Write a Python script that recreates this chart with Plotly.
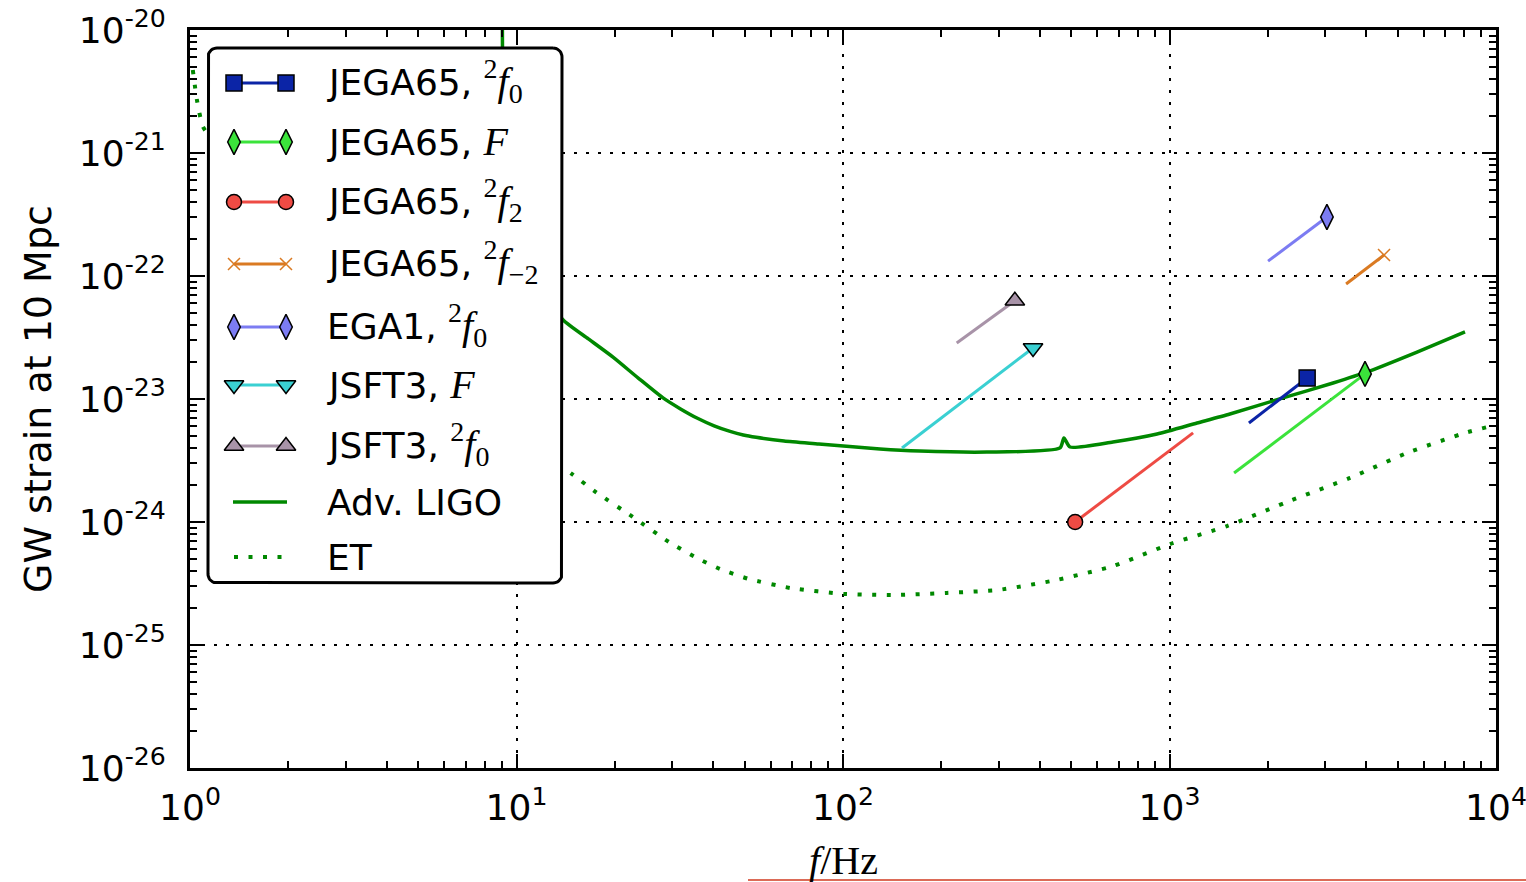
import numpy as np
import plotly.graph_objects as go

# ---------------- data ----------------
SERIF = '<span style="font-family:Liberation Serif;font-size:40px">'
series_labels = [
    "JEGA65, " + SERIF + "<sup>2</sup><i>f</i><sub>0</sub></span>",
    "JEGA65, " + SERIF + "<i>F</i></span>",
    "JEGA65, " + SERIF + "<sup>2</sup><i>f</i><sub>2</sub></span>",
    "JEGA65, " + SERIF + "<sup>2</sup><i>f</i><sub>\u22122</sub></span>",
    "EGA1, " + SERIF + "<sup>2</sup><i>f</i><sub>0</sub></span>",
    "JSFT3, " + SERIF + "<i>F</i></span>",
    "JSFT3, " + SERIF + "<sup>2</sup><i>f</i><sub>0</sub></span>",
]
series_colors = ["#0b24a6", "#3be33b", "#ee4b44", "#da7a22", "#7c7cf2", "#3ad0d2", "#a893a8"]
series_symbols = ["square", "diamond-tall", "circle", "x-thin-open",
                  "diamond-tall", "triangle-down", "triangle-up"]
series_sizes = [16, 18, 15, 12, 18, 17, 17]

# frequency / strain at the marked end and at the other end of each track
marker_freq = [2640, 3970, 514, 4540, 3035, 382, 336]
marker_strain = [1.48e-23, 1.6e-23, 1.0e-24, 1.48e-22, 3.02e-22, 2.6e-23, 6.3e-23]
tail_freq = [1751, 1577, 1181, 3474, 2004, 151.6, 223]
tail_strain = [6.38e-24, 2.5e-24, 5.3e-24, 8.6e-23, 1.32e-22, 4.0e-24, 2.85e-23]

# detector sensitivity curves
ligo_freq = [9.05, 9.1, 9.5, 10.5, 12.0, 13.9, 16.6, 19.75, 23.6, 28.1, 31.8, 35.7,
             40.3, 45.1, 49.5, 54.2, 66.0, 84.4, 129.8, 172, 276, 462, 475, 496, 671,
             916, 1214, 1531, 2227, 3170, 4028, 5730, 8036]
ligo_strain = [1e-19, 3e-21, 5e-22, 1.6e-22, 7.5e-23, 4.39e-23, 3.08e-23, 2.19e-23,
               1.48e-23, 1.02e-23, 8.3e-24, 7.0e-24, 6.05e-24, 5.45e-24, 5.1e-24,
               4.88e-24, 4.55e-24, 4.31e-24, 3.92e-24, 3.77e-24, 3.70e-24, 4.0e-24,
               4.82e-24, 4.07e-24, 4.47e-24, 5.19e-24, 6.38e-24, 7.55e-24, 1.02e-23,
               1.35e-23, 1.66e-23, 2.41e-23, 3.51e-23]
et_freq = [1.02, 1.05, 1.096, 1.26, 1.58, 2.51, 3.98, 6.31, 10.0, 14.8, 17.5, 22.7,
           29.3, 35.2, 42.0, 51.5, 69.3, 100.7, 145, 208, 298, 449, 671, 1004, 1500,
           2372, 3570, 5335, 8036, 10000]
et_strain = [4.73e-21, 2.70e-21, 1.63e-21, 1.0e-21, 4.5e-22, 1.12e-22, 3.55e-23,
             1.26e-23, 5.1e-24, 2.45e-24, 1.75e-24, 1.10e-24, 6.88e-25, 5.19e-25,
             4.15e-25, 3.44e-25, 2.90e-25, 2.60e-25, 2.55e-25, 2.65e-25, 2.80e-25,
             3.37e-25, 4.38e-25, 6.62e-25, 9.27e-25, 1.51e-24, 2.28e-24, 3.64e-24,
             5.30e-24, 6.15e-24]

x_tick_vals = [1, 10, 100, 1000, 10000]
x_tick_text = ["10<sup>0</sup>", "10<sup>1</sup>", "10<sup>2</sup>", "10<sup>3</sup>", "10<sup>4</sup>"]
y_tick_vals = [1e-26, 1e-25, 1e-24, 1e-23, 1e-22, 1e-21, 1e-20]
y_tick_text = ["10<sup>-26</sup>", "10<sup>-25</sup>", "10<sup>-24</sup>", "10<sup>-23</sup>",
               "10<sup>-22</sup>", "10<sup>-21</sup>", "10<sup>-20</sup>"]

DET_COLOR = "#008800"
detector_labels = ["Adv. LIGO", "ET"]

# ---------------- geometry ----------------
W, H = 1526, 882
ML, MR, MT, MB = 190, 30, 30, 114
PW, PH = W - ML - MR, H - MT - MB


def px_x(p):
    return (p - ML) / PW


def px_y(p):
    return (H - MB - p) / PH


minor_x = [m * 10.0 ** k for k in range(0, 4) for m in range(2, 10)]
minor_y = [m * 10.0 ** k for k in range(-26, -20) for m in range(2, 10)]

fig = go.Figure()

# sensitivity curves
fig.add_trace(go.Scatter(x=ligo_freq, y=ligo_strain, mode="lines",
                         line=dict(color=DET_COLOR, width=3.5, shape="spline",
                                   smoothing=0.6)))
fig.add_trace(go.Scatter(x=et_freq, y=et_strain, mode="lines",
                         line=dict(color=DET_COLOR, width=4, dash="4px,10.5px",
                                   shape="spline", smoothing=0.5)))

# signal tracks with a marker on one end
for i in range(len(series_labels)):
    fig.add_trace(go.Scatter(x=[tail_freq[i], marker_freq[i]],
                             y=[tail_strain[i], marker_strain[i]],
                             mode="lines", line=dict(color=series_colors[i], width=3)))
for i in range(len(series_labels)):
    open_sym = series_symbols[i].endswith("open")
    fig.add_trace(go.Scatter(
        x=[marker_freq[i]], y=[marker_strain[i]], mode="markers",
        marker=dict(symbol=series_symbols[i], size=series_sizes[i],
                    color=series_colors[i],
                    line=dict(color=series_colors[i] if open_sym else "black",
                              width=1.5))))

# ---------------- legend panel (own pixel-scaled subplot) ----------------
LX0, LX1, LY0, LY1 = 203, 568, 43, 588
box_l, box_r, box_t, box_b, rad = 208, 562, 48, 583, 9


def rounded_box(l, r, t, b, rr, n=10):
    xs, ys = [], []
    corners = [(r - rr, t + rr, -90, 0), (r - rr, b - rr, 0, 90),
               (l + rr, b - rr, 90, 180), (l + rr, t + rr, 180, 270)]
    for cx, cy, a0, a1 in corners:
        ang = np.radians(np.linspace(a0, a1, n))
        xs.extend(cx + rr * np.cos(ang))
        ys.extend(cy + rr * np.sin(ang))
    xs.append(xs[0])
    ys.append(ys[0])
    return xs, ys


bx, by = rounded_box(box_l, box_r, box_t, box_b, rad)
fig.add_trace(go.Scatter(x=bx, y=by, xaxis="x2", yaxis="y2", mode="lines",
                         fill="toself", fillcolor="white",
                         line=dict(color="black", width=3)))

row_y = [83, 142, 202, 264, 327, 385, 446, 502, 557]
text_dy = [-2, -1, -2, -2, -2, -1, -2, 0, 0]
s0, s1 = 234, 286
for i in range(len(series_labels)):
    open_sym = series_symbols[i].endswith("open")
    fig.add_trace(go.Scatter(
        x=[s0, s1], y=[row_y[i]] * 2, xaxis="x2", yaxis="y2", mode="lines+markers",
        line=dict(color=series_colors[i], width=3),
        marker=dict(symbol=series_symbols[i], size=series_sizes[i],
                    color=series_colors[i],
                    line=dict(color=series_colors[i] if open_sym else "black",
                              width=1.5))))
fig.add_trace(go.Scatter(x=[s0 - 1, s1 + 1], y=[row_y[7]] * 2, xaxis="x2", yaxis="y2",
                         mode="lines", line=dict(color=DET_COLOR, width=3.5)))
fig.add_trace(go.Scatter(x=[s0, s1 + 2], y=[row_y[8]] * 2, xaxis="x2", yaxis="y2",
                         mode="lines", line=dict(color=DET_COLOR, width=4, dash="4px,10.5px")))

annotations = []
for lab, yy, dy in zip(series_labels + detector_labels, row_y, text_dy):
    annotations.append(dict(x=325, y=yy + dy, xref="x2", yref="y2", text=lab,
                            showarrow=False, xanchor="left", yanchor="middle",
                            font=dict(size=36, family="DejaVu Sans", color="black")))

annotations.append(dict(x=px_x(38), y=0.5, xref="paper", yref="paper",
                        text="GW strain at 10 Mpc", textangle=-90, showarrow=False,
                        xanchor="center", yanchor="middle",
                        font=dict(size=38, family="DejaVu Sans", color="black")))
annotations.append(dict(x=0.5, y=px_y(860), xref="paper", yref="paper",
                        text="<i>f</i>/Hz", showarrow=False,
                        xanchor="center", yanchor="middle",
                        font=dict(size=40, family="Liberation Serif", color="black")))

axis_common = dict(
    type="log", tickmode="array", ticks="inside", ticklen=14, tickwidth=1.5,
    tickcolor="black", showline=True, linewidth=3, linecolor="black",
    mirror="allticks", showgrid=True, gridcolor="black", gridwidth=1.5,
    griddash="3px,9px", zeroline=False, automargin=False,
    ticklabeloverflow="allow",
    tickfont=dict(size=36, family="DejaVu Sans", color="black"),
)

fig.update_layout(
    width=W, height=H,
    margin=dict(l=ML, r=MR, t=MT, b=MB, pad=0, autoexpand=False),
    paper_bgcolor="white", plot_bgcolor="rgba(0,0,0,0)",
    showlegend=False,
    xaxis=dict(axis_common, range=[0, 4], tickvals=x_tick_vals, ticktext=x_tick_text,
               ticklabelstandoff=6,
               minor=dict(tickmode="array", tickvals=minor_x, ticks="inside",
                          ticklen=7, tickwidth=1.5, tickcolor="black", showgrid=False)),
    yaxis=dict(axis_common, range=[-26, -20], tickvals=y_tick_vals, ticktext=y_tick_text,
               ticklabelstandoff=14,
               minor=dict(tickmode="array", tickvals=minor_y, ticks="inside",
                          ticklen=7, tickwidth=1.5, tickcolor="black", showgrid=False)),
    xaxis2=dict(domain=[px_x(LX0), px_x(LX1)], range=[LX0, LX1], visible=False,
                anchor="y2", fixedrange=True, automargin=False),
    yaxis2=dict(domain=[px_y(LY1), px_y(LY0)], range=[LY1, LY0], visible=False,
                anchor="x2", fixedrange=True, automargin=False),
    annotations=annotations,
    shapes=[dict(type="line", xref="paper", yref="paper",
                 x0=px_x(748), x1=px_x(W + 5), y0=px_y(880), y1=px_y(880),
                 line=dict(color="#d03a1f", width=1.5))],
)

fig.write_html("out.html")
